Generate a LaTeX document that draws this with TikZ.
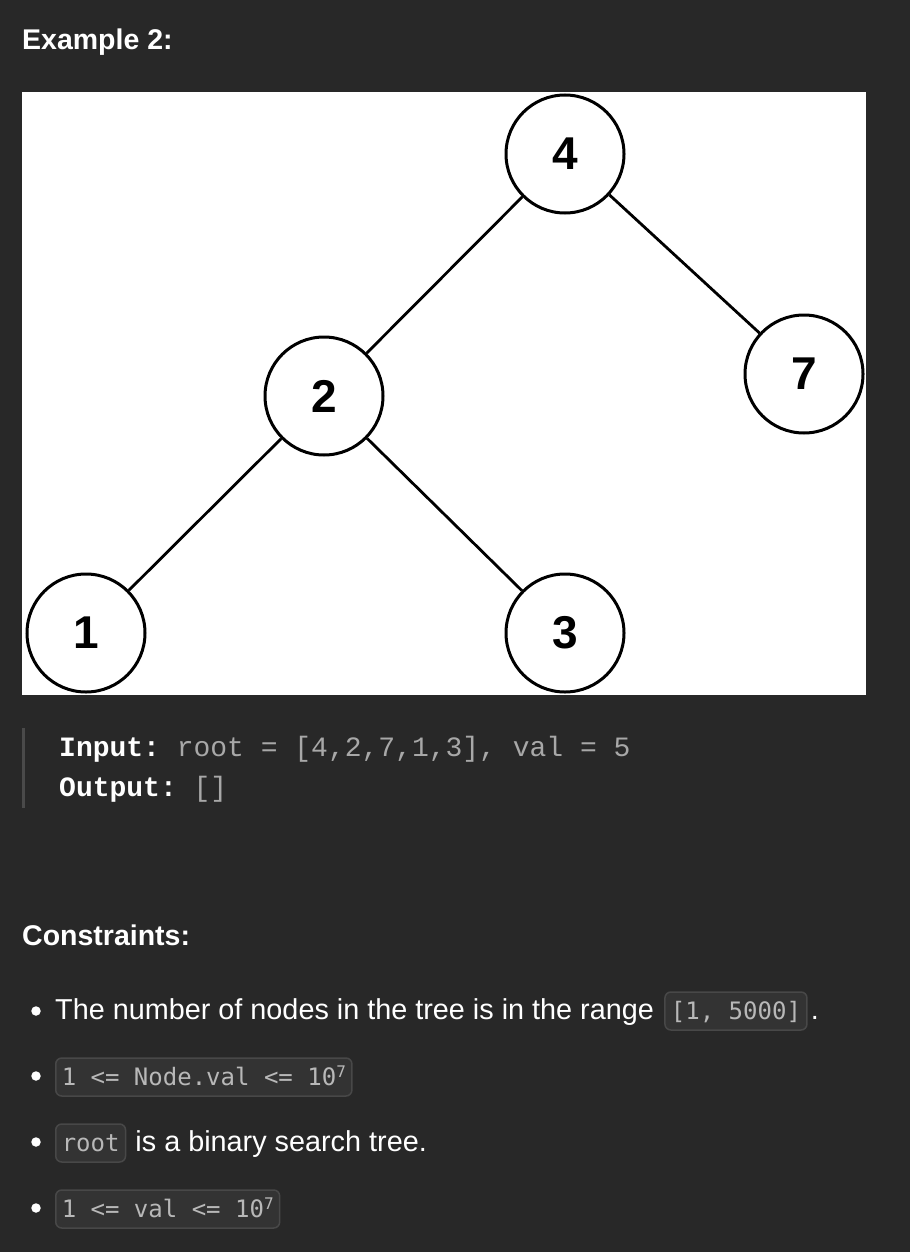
\documentclass[tikz,border=0pt]{standalone}
\usepackage{fontspec}
\setmainfont{Liberation Sans}
\setmonofont{Liberation Mono}
\newfontfamily\codefont{DejaVu Sans Mono}
\usepackage{xcolor}
\usetikzlibrary{calc}

\definecolor{pagebg}{HTML}{282828}
\definecolor{codefill}{HTML}{333333}
\definecolor{codeline}{HTML}{484848}
\definecolor{codetext}{HTML}{B8B8B8}
\definecolor{inputgray}{HTML}{A8A8A8}
\definecolor{quotebar}{HTML}{4A4A4A}

\newcommand{\tenseven}{10\raisebox{8pt}{\fontsize{16}{16}\selectfont 7}}

\begin{document}
\begin{tikzpicture}[x=1pt, y=-1pt,
		treenode/.style={circle, draw=black, line width=3pt, fill=white, minimum size=118pt, inner sep=0pt, font=\fontsize{46}{46}\selectfont\bfseries},
		treeedge/.style={line width=2.8pt, black},
		heading/.style={anchor=base west, inner sep=0pt, text=white, font=\fontsize{28.5}{28.5}\selectfont\bfseries},
		bodytext/.style={anchor=base west, inner sep=0pt, text=white, font=\fontsize{28.8}{28.8}\selectfont},
		inputline/.style={anchor=base west, inner sep=0pt, text=inputgray, font=\fontsize{28}{28}\selectfont\ttfamily},
		codebox/.style={anchor=base west, fill=codefill, draw=codeline, line width=1.5pt, rounded corners=6pt, text=codetext, inner xsep=6pt, inner ysep=6pt, text height=21pt, text depth=5pt, font=\fontsize{24}{24}\selectfont\codefont},
		bulletdot/.style={circle, fill=white, inner sep=0pt, minimum size=9.5pt}
	]
		\def\boxL{22};
		\def\boxR{866};
		\def\boxT{92};
		\def\boxB{695};

		\fill [pagebg] (0,0) rectangle (910,1252);
		\useasboundingbox (0,0) rectangle (910,1252);

		\node [heading] (title) at (22,50) {Example 2:};

		% tree picture
		\begin{scope}
			\clip (\boxL,\boxT) rectangle (\boxR,\boxB);
			\fill [white] (\boxL,\boxT) rectangle (\boxR,\boxB);

			\node [treenode] (n4) at (565,154) {4};
			\node [treenode] (n2) at (324,396) {2};
			\node [treenode] (n7) at (804,374) {7};
			\node [treenode] (n1) at (86,633) {1};
			\node [treenode] (n3) at (565,633) {3};

			\draw [treeedge] (n4) -- (n2);
			\draw [treeedge] (n4) -- (n7);
			\draw [treeedge] (n2) -- (n1);
			\draw [treeedge] (n2) -- (n3);
		\end{scope}

		% example block
		\fill [quotebar] (22,728) rectangle (25,808);
		\node [inputline] (input) at (59,756) {{\bfseries\color{white}Input:} root = [4,2,7,1,3], val = 5};
		\node [inputline] (output) at (59,796) {{\bfseries\color{white}Output:} []};

		\node [heading] (constr) at (22,945) {Constraints:};

		% constraint list
		\node [bulletdot] (dot1) at (36,1011) {};
		\node [bodytext] (range) at (55,1019) {The number of nodes in the tree is in the range};
		\node [codebox] (rangecode) at ($ (range.base east) + (10,0) $) {[1, 5000]};
		\node [bodytext] (rangedot) at ($ (rangecode.base east) + (3,0) $) {.};

		\node [bulletdot] (dot2) at (36,1076) {};
		\node [codebox] (nodeval) at (55,1085) {1 <= Node.val <= \tenseven};

		\node [bulletdot] (dot3) at (36,1142) {};
		\node [codebox] (rootcode) at (55,1151) {root};
		\node [bodytext] (bst) at ($ (rootcode.base east) + (9,0) $) {is a binary search tree.};

		\node [bulletdot] (dot4) at (36,1208) {};
		\node [codebox] (valcode) at (55,1217) {1 <= val <= \tenseven};
	\end{tikzpicture}
\end{document}
